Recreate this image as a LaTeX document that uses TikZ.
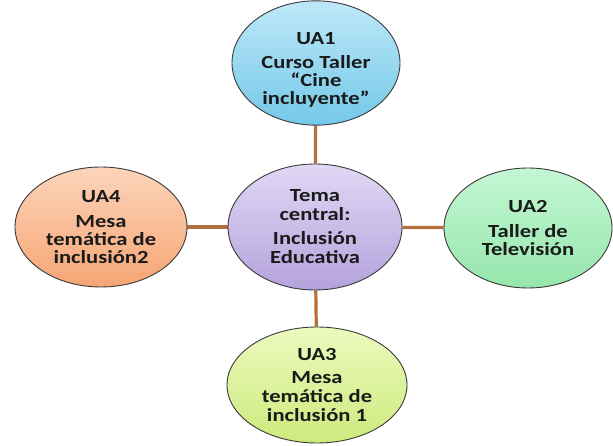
\documentclass[tikz,border=0pt]{standalone}
\usepackage{fontspec}
\setmainfont{Carlito}[FakeStretch=1.22]
\usetikzlibrary{shapes.geometric,backgrounds}
\definecolor{link}{HTML}{B5703A}
\definecolor{edge}{HTML}{3A3A3A}
\definecolor{ink}{HTML}{1A1A1A}
\definecolor{blueT}{RGB}{190,232,249}\definecolor{blueB}{RGB}{116,200,232}
\definecolor{lilaT}{RGB}{224,216,245}\definecolor{lilaB}{RGB}{180,162,220}
\definecolor{peachT}{RGB}{252,212,186}\definecolor{peachB}{RGB}{245,165,115}
\definecolor{greenT}{RGB}{196,247,212}\definecolor{greenB}{RGB}{150,230,172}
\definecolor{limeT}{RGB}{236,250,190}\definecolor{limeB}{RGB}{205,234,125}
\tikzset{
  bubble/.style={ellipse, draw=edge, line width=0.9pt, inner sep=0pt, align=center,
    text=ink, font=\fontsize{18.5}{18}\selectfont\bfseries},
  linkline/.style={draw=link, line width=3.2pt}
}
\begin{document}
\begin{tikzpicture}[x=1pt,y=-1pt]
\useasboundingbox (0,0) rectangle (613,446);
\node[bubble, minimum width=168pt, minimum height=116pt, top color=blueT, bottom color=blueB]
  (ua1) at (316,63) {\rule{0pt}{25pt}UA1\\[6pt]Curso Taller\\“Cine\\incluyente”};
\node[bubble, minimum width=174pt, minimum height=126pt, top color=lilaT, bottom color=lilaB]
  (c) at (315,227) {Tema\\[1pt]central:\\[6pt]Inclusión\\[1pt]Educativa};
\node[bubble, minimum width=172pt, minimum height=120pt, top color=peachT, bottom color=peachB]
  (ua4) at (101,227) {UA4\\[7pt]Mesa\\temática de\\inclusión2};
\node[bubble, minimum width=168pt, minimum height=120pt, top color=greenT, bottom color=greenB]
  (ua2) at (528,228) {UA2\\[7pt]Taller de\\Televisión};
\node[bubble, minimum width=180pt, minimum height=116pt, top color=limeT, bottom color=limeB]
  (ua3) at (317,385) {UA3\\[5pt]Mesa\\[1pt]temática de\\[1pt]inclusión 1};
\begin{scope}[on background layer]
  \fill[white] (0,0) rectangle (613,446);
  \draw[linkline] (c) -- (ua1);
  \draw[linkline] (c) -- (ua2);
  \draw[linkline] (c) -- (ua3);
  \draw[linkline] (c) -- (ua4);
\end{scope}
\end{tikzpicture}
\end{document}
